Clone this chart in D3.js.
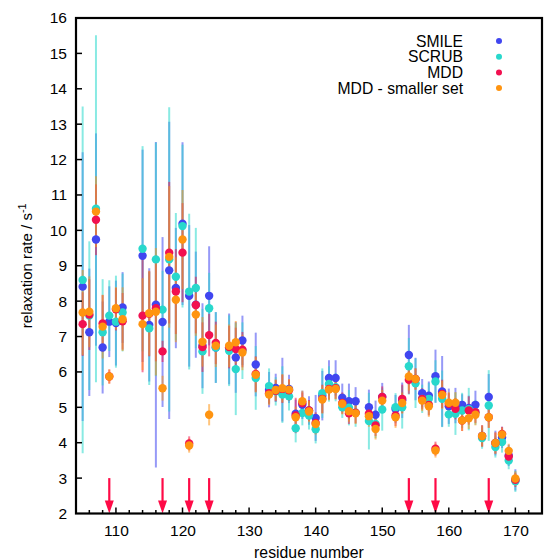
<!DOCTYPE html>
<html><head><meta charset="utf-8">
<script src="https://cdn.jsdelivr.net/npm/d3@7"></script>
<style>body{margin:0;background:#fff}svg text{font-family:"Liberation Sans",Arial,sans-serif}</style>
</head><body><svg id="c" width="544" height="560"></svg>
<script>
const residues = [105,106,107,108,109,110,111,114,115,116,117,118,119,120,121,122,123,124,125,127,128,129,131,133,134,135,136,137,138,139,140,141,142,143,144,145,146,148,149,150,152,153,154,155,156,157,158,159,160,161,162,163,164,165,166,167,168,169,170];
const smile    = [8.41,7.12,9.74,6.69,7.42,7.38,7.82,9.28,7.33,7.90,7.41,8.87,8.37,10.19,8.15,7.90,6.74,8.15,6.69,6.65,6.41,6.89,6.21,5.50,5.55,5.50,5.52,4.82,5.07,4.91,4.70,5.33,5.83,5.83,5.27,5.17,5.17,5.00,4.79,5.29,4.95,5.20,6.48,5.80,5.40,5.33,5.88,5.45,5.03,5.05,5.07,4.98,5.07,4.19,5.29,3.99,4.15,3.64,2.95];
const smileErr = [3.8,1.8,3.0,1.3,1.0,1.2,1.0,3.0,1.6,4.6,2.4,4.2,1.7,2.3,2.0,1.5,1.2,1.4,1.0,1.0,1.0,0.7,0.9,0.5,0.4,0.9,0.4,0.4,0.4,0.4,0.65,0.7,0.5,0.5,0.4,0.5,0.4,0.5,0.4,0.4,0.4,0.5,0.85,0.6,0.4,0.4,0.75,1.0,0.5,0.5,0.3,0.35,0.4,0.3,0.65,0.35,0.3,0.3,0.3];
const scrub    = [8.60,7.59,10.61,7.12,7.59,7.42,7.68,9.48,7.23,9.18,7.76,9.18,8.69,10.12,8.27,8.37,6.58,7.80,6.69,6.60,6.08,6.60,5.83,5.60,5.45,5.36,5.31,4.41,4.84,4.77,4.38,5.40,5.66,5.57,5.00,4.99,4.85,4.61,4.53,4.94,5.00,5.00,6.16,5.68,5.24,5.24,5.73,5.24,4.80,4.82,4.91,4.95,4.86,4.13,5.05,3.88,4.02,3.50,2.91];
const scrubErr = [4.9,2.1,4.9,1.5,1.0,1.3,1.1,2.9,1.6,3.3,1.1,4.3,1.8,2.3,2.2,1.7,1.2,1.0,1.0,1.0,1.3,0.8,0.9,0.5,0.4,0.8,0.4,0.4,0.35,0.4,0.4,0.7,0.5,0.4,0.3,0.5,0.4,0.8,0.4,0.6,0.4,0.6,0.8,0.7,0.4,0.45,0.6,0.8,0.35,0.6,0.5,0.6,0.35,0.3,1.0,0.3,0.3,0.25,0.3];
const mdd      = [7.35,7.62,10.30,7.37,5.87,7.77,7.43,7.59,7.64,7.80,6.58,9.37,8.27,9.37,3.98,7.89,6.70,7.04,6.82,6.70,6.65,6.63,5.94,5.40,5.47,5.52,5.48,4.77,5.12,4.91,4.56,5.24,5.52,5.54,5.12,4.83,4.85,4.82,4.49,5.29,4.77,5.24,5.78,5.80,5.24,5.07,3.83,5.38,5.10,4.96,4.63,4.91,4.86,4.19,4.72,3.99,4.25,3.61,2.95];
const mddErr   = [0.9,1.0,1.0,0.8,0.2,0.6,0.8,1.6,1.2,1.5,0.3,2.0,1.2,1.4,0.2,0.8,0.7,0.6,0.6,0.6,0.6,0.5,0.5,0.3,0.3,0.4,0.3,0.5,0.3,0.3,0.3,0.4,0.3,0.3,0.3,0.3,0.3,0.3,0.3,0.3,0.3,0.4,0.4,0.3,0.3,0.3,0.2,0.4,0.3,0.3,0.3,0.4,0.3,0.3,0.3,0.3,0.2,0.2,0.2];
const mddSmall    = [7.68,7.70,10.53,7.28,5.87,7.80,7.49,7.35,7.66,7.70,5.54,9.25,8.04,9.74,3.92,7.62,6.85,4.79,6.74,6.74,6.84,6.55,5.92,5.36,5.49,5.54,5.50,4.72,5.17,4.88,4.53,5.22,5.50,5.52,5.10,4.89,4.83,4.75,4.39,5.19,4.72,5.12,5.87,5.80,5.19,5.03,3.78,5.35,5.13,5.13,4.63,4.69,4.79,4.19,4.72,3.99,4.23,3.77,2.99];
const mddSmallErr = [1.2,1.0,1.0,0.9,0.2,0.6,0.9,1.3,1.2,1.8,0.35,2.0,1.2,1.4,0.2,0.6,0.7,0.3,0.6,0.6,0.6,0.5,0.5,0.3,0.3,0.4,0.3,0.3,0.3,0.3,0.3,0.4,0.3,0.3,0.3,0.3,0.3,0.3,0.3,0.3,0.3,0.3,0.4,0.3,0.3,0.3,0.2,0.4,0.3,0.3,0.3,0.3,0.3,0.3,0.3,0.3,0.2,0.2,0.2];
const seriesNames = ["SMILE","SCRUB","MDD","MDD - smaller set"];
const seriesColors = ["#4046f0","#28d8cc","#f21050","#ff9410"];
const arrowResidues = [109,117,121,124,154,158,166];
const xTicks = [110,120,130,140,150,160,170];
const yTicks = [2,3,4,5,6,7,8,9,10,11,12,13,14,15,16];

const svg = d3.select("#c");
const L=76, R=542, T=18, B=513.5;
const x = d3.scaleLinear().domain([104,174]).range([L,R]);
const y = d3.scaleLinear().domain([2,16]).range([B,T]);

const series = [[smile,smileErr],[scrub,scrubErr],[mdd,mddErr],[mddSmall,mddSmallErr]];
series.forEach(([vals,errs],si)=>{
  const g = svg.append("g");
  g.selectAll("line").data(residues).join("line")
    .attr("x1",d=>x(d)).attr("x2",d=>x(d))
    .attr("y1",(d,i)=>y(vals[i]-errs[i])).attr("y2",(d,i)=>y(Math.min(16,vals[i]+errs[i])))
    .attr("stroke",seriesColors[si]).attr("stroke-width",2).attr("stroke-opacity",0.55);
});
series.forEach(([vals],si)=>{
  svg.append("g").selectAll("circle").data(residues).join("circle")
    .attr("cx",d=>x(d)).attr("cy",(d,i)=>y(vals[i])).attr("r",4.2)
    .attr("fill",seriesColors[si]);
});

// arrows
const ag = svg.append("g");
arrowResidues.forEach(r=>{
  ag.append("line").attr("x1",x(r)).attr("x2",x(r)).attr("y1",y(3)).attr("y2",y(2)-10)
    .attr("stroke","#ff0a46").attr("stroke-width",2.2);
  ag.append("path").attr("d",`M${x(r)-4.5},${y(2)-13} L${x(r)+4.5},${y(2)-13} L${x(r)},${y(2)} Z`).attr("fill","#ff0a46");
});

// axes
const xAxis = d3.axisBottom(x).tickValues(xTicks).tickSize(0).tickPadding(11);
const gx = svg.append("g").attr("transform",`translate(0,${B})`).call(xAxis);
gx.select(".domain").remove();
gx.selectAll("text").attr("font-size",15.5).attr("fill","#000");
const yAxis = d3.axisLeft(y).tickValues(yTicks).tickSize(0).tickPadding(9);
const gy = svg.append("g").attr("transform",`translate(${L},0)`).call(yAxis);
gy.select(".domain").remove();
gy.selectAll("text").attr("font-size",15.5).attr("fill","#000");

// inward ticks
const tk = svg.append("g").attr("stroke","#000").attr("stroke-width",1.5);
yTicks.forEach(v=>{ if(v>2&&v<16) tk.append("line").attr("x1",L).attr("x2",L+6).attr("y1",y(v)).attr("y2",y(v)); });
d3.range(106,174,2).forEach(v=>{
  const major = v%10===0;
  tk.append("line").attr("x1",x(v)).attr("x2",x(v)).attr("y1",B).attr("y2",B-(major?6:3.5));
});
svg.append("rect").attr("x",L).attr("y",T).attr("width",R-L).attr("height",B-T)
  .attr("fill","none").attr("stroke","#000").attr("stroke-width",2.2);

// labels
svg.append("text").attr("x",(L+R)/2).attr("y",558).attr("text-anchor","middle").attr("font-size",15.8).text("residue number");
const yl = svg.append("text").attr("transform",`translate(32,${(T+B)/2}) rotate(-90)`).attr("text-anchor","middle").attr("font-size",15);
yl.append("tspan").text("relaxation rate / s");
yl.append("tspan").attr("dy",-6).attr("font-size",11).text("-1");

// legend
const lg = svg.append("g");
seriesNames.forEach((n,i)=>{
  const yy = 41 + i*15.7;
  lg.append("text").attr("x",463).attr("y",yy+5.5).attr("text-anchor","end").attr("font-size",15.7).text(n);
  lg.append("circle").attr("cx",499).attr("cy",yy).attr("r",3).attr("fill",seriesColors[i]);
});
</script></body></html>
